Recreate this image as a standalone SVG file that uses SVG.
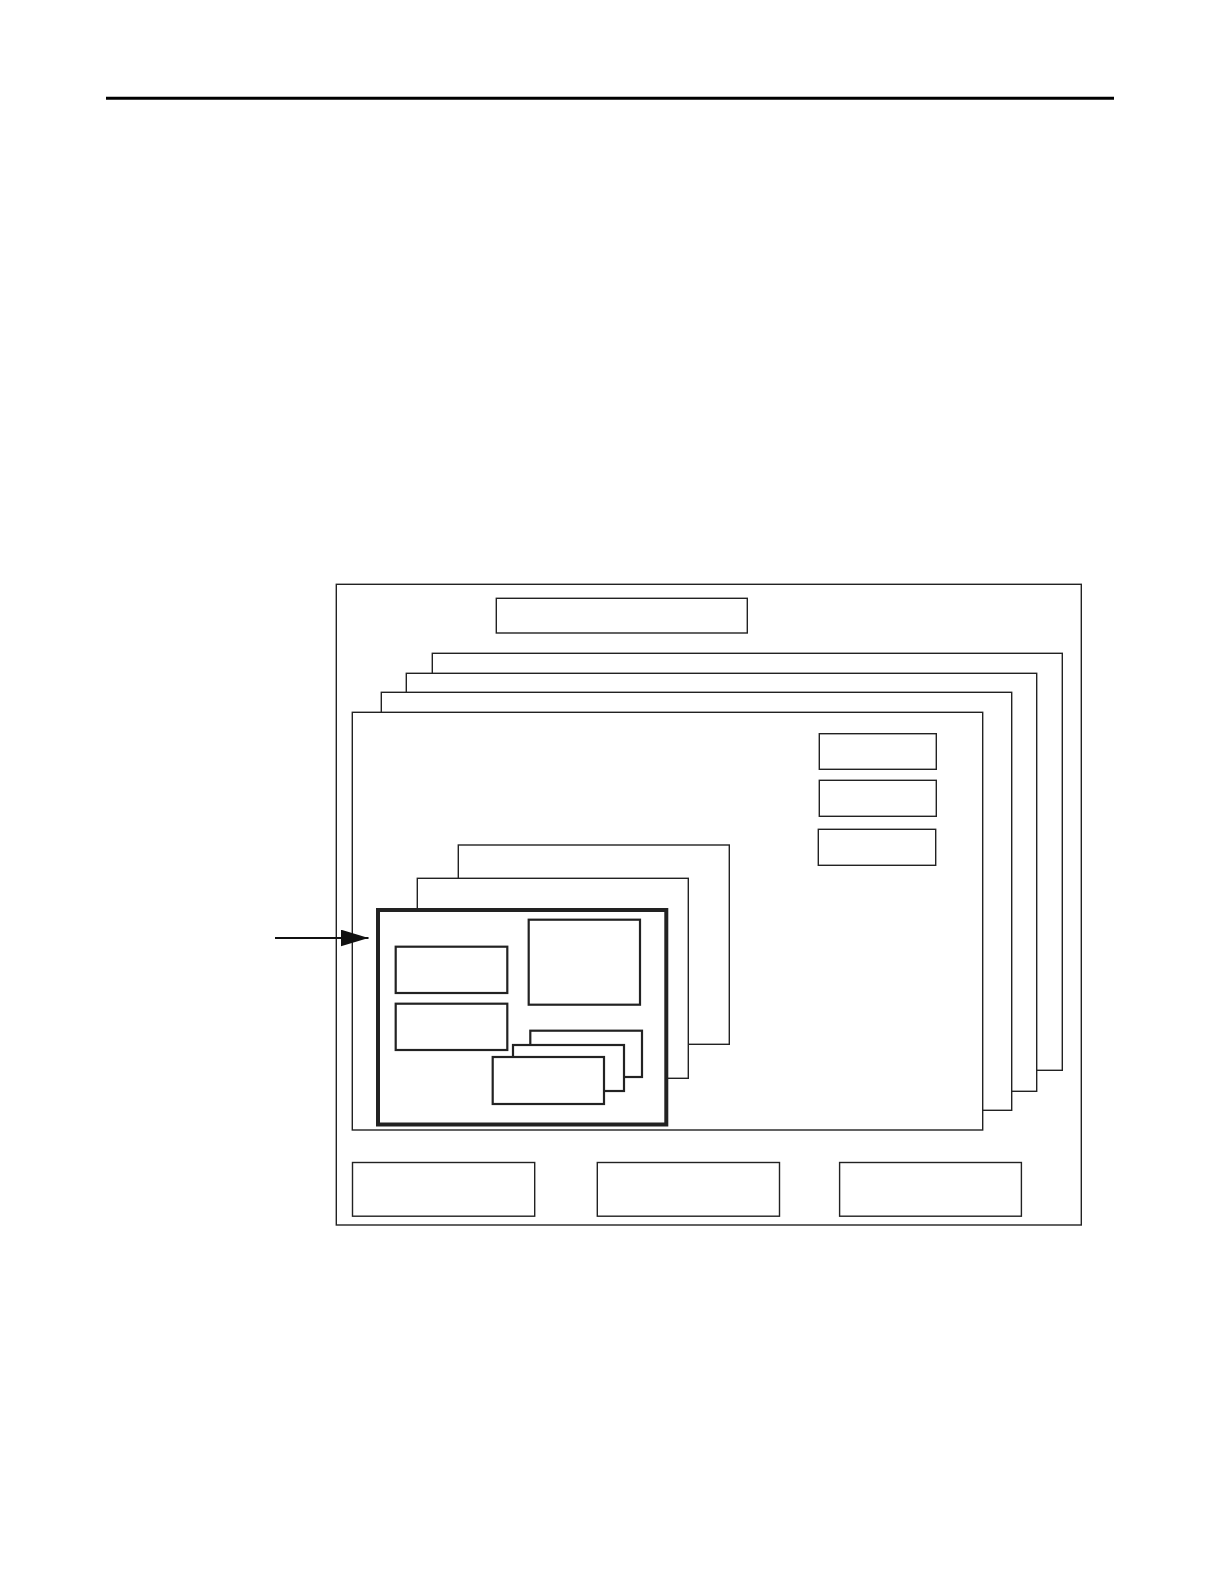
<svg xmlns="http://www.w3.org/2000/svg" width="1224" height="1584" viewBox="0 0 1224 1584">
<style>
.pg{fill:#fff;stroke:#222;stroke-width:1.4}
.bx{fill:#fff;stroke:#222;stroke-width:2.2}
.thick{fill:#fff;stroke:#222;stroke-width:4}
</style>
<defs>
<marker id="ah" viewBox="0 0 28 17" refX="28" refY="8.5" markerWidth="28" markerHeight="17" markerUnits="userSpaceOnUse" orient="auto">
<path d="M0,0 L28,8.5 L0,17 Z" fill="#111"/>
</marker>
</defs>
<rect width="1224" height="1584" fill="#fff"/>
<line x1="106" y1="98.3" x2="1114" y2="98.3" stroke="#000" stroke-width="3"/>
<g id="outer-frame"><rect class="pg" x="336.3" y="584.3" width="745" height="640.7"/></g>
<g id="title-box"><rect class="pg" x="496.3" y="598.3" width="251" height="34.7"/></g>
<g id="page-4"><rect class="pg" x="432.3" y="653.3" width="630" height="417"/></g>
<g id="page-3"><rect class="pg" x="406.3" y="673.3" width="630.4" height="418"/></g>
<g id="page-2"><rect class="pg" x="381.3" y="692.3" width="630.4" height="418"/></g>
<g id="page-1"><rect class="pg" x="352.3" y="712.3" width="630.4" height="417.7"/></g>
<g id="side-box-1"><rect class="pg" x="819.3" y="733.7" width="117" height="35.6"/></g>
<g id="side-box-2"><rect class="pg" x="819.3" y="780.3" width="117" height="36"/></g>
<g id="side-box-3"><rect class="pg" x="818.3" y="829.3" width="117.4" height="36"/></g>
<g id="inner-page-3"><rect class="pg" x="458.3" y="845" width="271" height="199.3"/></g>
<g id="inner-page-2"><rect class="pg" x="417.3" y="878.3" width="271" height="200"/></g>
<g id="inner-page-1"><rect class="thick" x="378" y="910" width="288.3" height="214.5"/></g>
<g id="box-a"><rect class="bx" x="395.7" y="946.7" width="111.6" height="46.3"/></g>
<g id="box-b"><rect class="bx" x="395.7" y="1003.7" width="111.6" height="46.3"/></g>
<g id="box-c"><rect class="bx" x="528.7" y="919.7" width="111.3" height="85"/></g>
<g id="stack-3"><rect class="bx" x="530.3" y="1030.7" width="111.7" height="46.3"/></g>
<g id="stack-2"><rect class="bx" x="513" y="1045" width="111" height="46"/></g>
<g id="stack-1"><rect class="bx" x="492.7" y="1057" width="111.3" height="47"/></g>
<g id="bottom-box-1"><rect class="pg" x="352.5" y="1162.5" width="182.2" height="53.7"/></g>
<g id="bottom-box-2"><rect class="pg" x="597.3" y="1162.5" width="182.2" height="53.7"/></g>
<g id="bottom-box-3"><rect class="pg" x="839.6" y="1162.5" width="181.8" height="53.7"/></g>
<g id="connectors">
<line x1="275" y1="938" x2="368.5" y2="938" stroke="#111" stroke-width="2" marker-end="url(#ah)"/>
</g>
</svg>
